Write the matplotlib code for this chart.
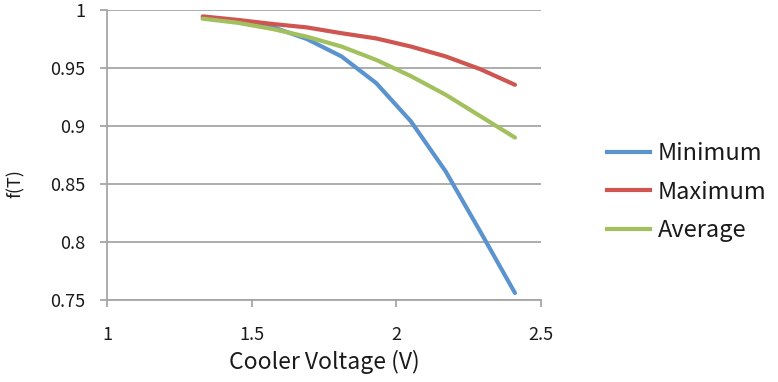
import matplotlib
matplotlib.use("Agg")
import matplotlib.pyplot as plt
from matplotlib.lines import Line2D

plt.rcParams['font.family'] = ['Noto Sans CJK SC', 'DejaVu Sans']

voltage = [1.33, 1.45, 1.57, 1.69, 1.81, 1.93, 2.05, 2.17, 2.29, 2.41]
minimum = [0.993, 0.990, 0.9855, 0.975, 0.960, 0.937, 0.904, 0.861, 0.809, 0.756]
maximum = [0.9945, 0.9915, 0.988, 0.985, 0.980, 0.9755, 0.9685, 0.960, 0.949, 0.9355]
average = [0.9925, 0.989, 0.9837, 0.977, 0.9685, 0.957, 0.943, 0.927, 0.9085, 0.890]
series_names = ["Minimum", "Maximum", "Average"]
x_ticks = [1, 1.5, 2, 2.5]
y_ticks = [0.75, 0.8, 0.85, 0.9, 0.95, 1]

colors = ["#5B93CF", "#CF5550", "#A2C15E"]
grid_c = "#A6A6A6"
text_c = "#1a1a1a"

fig = plt.figure(figsize=(7.78, 3.82), dpi=100)
ax = fig.add_axes([107.3/778, 1-300/382, (541-107.3)/778, (300-10)/382])

for vals, c, name in zip([minimum, maximum, average], colors, series_names):
    ax.plot(voltage, vals, color=c, lw=3.0, solid_capstyle='round', label=name)

ax.set_xlim(1, 2.5)
ax.set_ylim(0.75, 1)
ax.set_xticks(x_ticks)
ax.set_xticklabels([f"{v:g}" for v in x_ticks])
ax.set_yticks(y_ticks)
ax.set_yticklabels([f"{v:g}" for v in y_ticks])
ax.yaxis.grid(True, color=grid_c, lw=1.3)
ax.set_axisbelow(True)
for s in ['top', 'right']:
    ax.spines[s].set_visible(False)
for s in ['left', 'bottom']:
    ax.spines[s].set_color(grid_c)
    ax.spines[s].set_linewidth(1.3)
ax.tick_params(axis='both', colors=grid_c, length=5, width=1.3, labelcolor=text_c, labelsize=13)
ax.tick_params(axis='y', pad=11)
ax.tick_params(axis='x', pad=14)

ax.set_xlabel("Cooler Voltage (V)", fontsize=16.5, color=text_c, labelpad=4)
ax.set_ylabel("f(T)", fontsize=13, color=text_c)
ax.yaxis.set_label_coords(-0.19, 0.40)

handles = [Line2D([], [], color=c, lw=3.0) for c in colors]
leg = fig.legend(handles, series_names, loc='center left', bbox_to_anchor=(607/778, 1-192/382),
                 frameon=False, fontsize=17, handlelength=1.82, handletextpad=0.34,
                 labelspacing=0.66, borderaxespad=0, borderpad=0)
for t in leg.get_texts():
    t.set_color(text_c)

fig.savefig("out.png", dpi=100)
